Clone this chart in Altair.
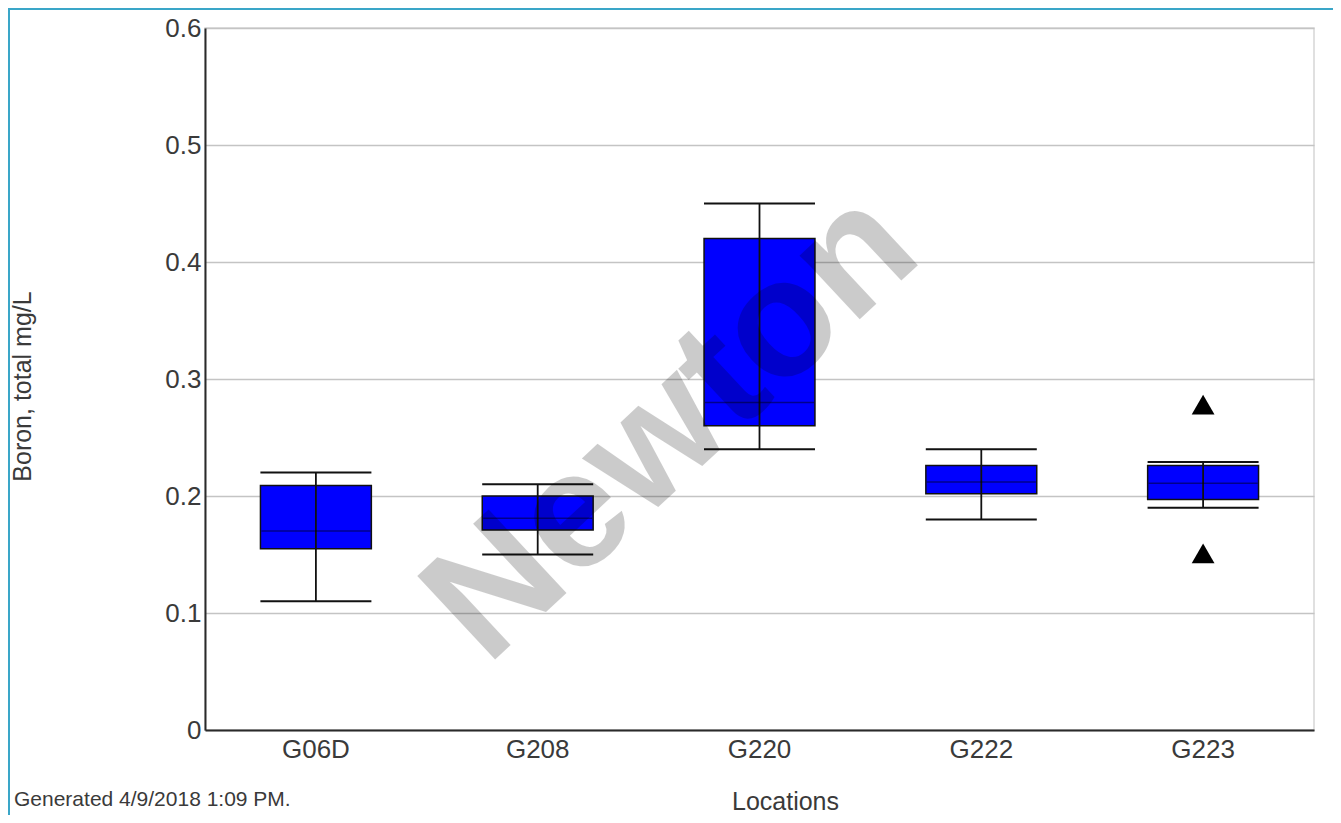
import altair as alt
import pandas as pd

locations = ["G06D", "G208", "G220", "G222", "G223"]
whisker_low = [0.11, 0.15, 0.24, 0.18, 0.19]
q1 = [0.155, 0.171, 0.26, 0.202, 0.197]
median = [0.17, 0.181, 0.28, 0.212, 0.211]
q3 = [0.209, 0.200, 0.42, 0.226, 0.226]
whisker_high = [0.22, 0.21, 0.45, 0.24, 0.229]
outlier_locs = ["G223", "G223"]
outlier_vals = [0.278, 0.151]
y_ticks = [0, 0.1, 0.2, 0.3, 0.4, 0.5, 0.6]

FONT = "Liberation Sans"

df = pd.DataFrame({"loc": locations, "lo": whisker_low, "q1": q1,
                   "med": median, "q3": q3, "hi": whisker_high})
out_df = pd.DataFrame({"loc": outlier_locs, "val": outlier_vals})

xs = alt.Scale(domain=locations, paddingInner=0, paddingOuter=0)
ys = alt.Scale(domain=[0, 0.6], nice=False, zero=True)

x_enc = alt.X("loc:N", scale=xs, sort=locations,
              axis=alt.Axis(title="Locations", labelAngle=0, ticks=False,
                            labelFontSize=26, labelFont=FONT, labelColor="#3a3a3a",
                            labelPadding=6, domainColor="#2a2a2a", domainWidth=2,
                            titleFontSize=25, titleFont=FONT, titleColor="#3a3a3a",
                            titleFontWeight="normal", titleX=580, titleY=71,
                            titleBaseline="middle", titleAlign="center", grid=False))

y_axis = alt.Axis(title="Boron, total mg/L", values=y_ticks, format=".1~f",
                  ticks=False, labelFontSize=26, labelFont=FONT, labelColor="#3a3a3a",
                  labelPadding=4, domainColor="#2a2a2a", domainWidth=2,
                  gridColor="#c4c4c4", gridWidth=1.5,
                  titleFontSize=25, titleFont=FONT, titleColor="#3a3a3a",
                  titleFontWeight="normal", titleX=-183, titleY=358,
                  titleAngle=270, titleBaseline="middle", titleAlign="center")

base = alt.Chart(df)

boxes = base.mark_bar(width={"band": 0.5}, color="#0000ff", stroke="#111111",
                      strokeWidth=1.5).encode(
    x=x_enc,
    y=alt.Y("q1:Q", scale=ys, axis=y_axis),
    y2="q3:Q",
)

whisk = base.mark_rule(color="#111111", strokeWidth=1.8).encode(
    x=alt.X("loc:N", scale=xs, sort=locations),
    y=alt.Y("lo:Q", scale=ys),
    y2="hi:Q",
)

cap_lo = base.mark_tick(orient="horizontal", size=111, thickness=2,
                        color="#111111", opacity=1).encode(
    x=alt.X("loc:N", scale=xs, sort=locations),
    y=alt.Y("lo:Q", scale=ys),
)
cap_hi = base.mark_tick(orient="horizontal", size=111, thickness=2,
                        color="#111111", opacity=1).encode(
    x=alt.X("loc:N", scale=xs, sort=locations),
    y=alt.Y("hi:Q", scale=ys),
)
med = base.mark_tick(orient="horizontal", size=109, thickness=1.5,
                     color="#000000", opacity=0.45).encode(
    x=alt.X("loc:N", scale=xs, sort=locations),
    y=alt.Y("med:Q", scale=ys),
)

outs = alt.Chart(out_df).mark_point(shape="triangle-up", filled=True, size=520,
                                    color="#000000", opacity=1).encode(
    x=alt.X("loc:N", scale=xs, sort=locations),
    y=alt.Y("val:Q", scale=ys),
)

deco = pd.DataFrame({"t": ["Newton"]})
watermark = alt.Chart(deco).mark_text(
    text="Newton", font=FONT, fontSize=166, fontWeight="bold", angle=317,
    color="#000000", opacity=0.2, align="center", baseline="middle"
).encode(x=alt.value(467), y=alt.value(398))

gen_df = pd.DataFrame({"t": ["Generated 4/9/2018 1:09 PM."]})
generated = alt.Chart(gen_df).mark_text(
    text="Generated 4/9/2018 1:09 PM.", font=FONT, fontSize=21, color="#3a3a3a",
    align="left", baseline="middle"
).encode(x=alt.value(-191), y=alt.value(772))

frame = alt.Chart(deco).mark_rect(fill=None, stroke="#3aa6c8", strokeWidth=2).encode(
    x=alt.value(-196), x2=alt.value(1160), y=alt.value(-19), y2=alt.value(840)
)

chart = alt.layer(boxes, whisk, cap_lo, cap_hi, med, outs, watermark, generated, frame).properties(
    width=1109, height=702,
    padding={"left": 197, "top": 20, "right": 19, "bottom": 85},
    autosize=alt.AutoSizeParams(type="none"),
    background="white",
).configure_view(stroke="#d6d6d6", strokeWidth=1.5)

chart.save("out.html", embed_options={"renderer": "svg", "actions": False})
